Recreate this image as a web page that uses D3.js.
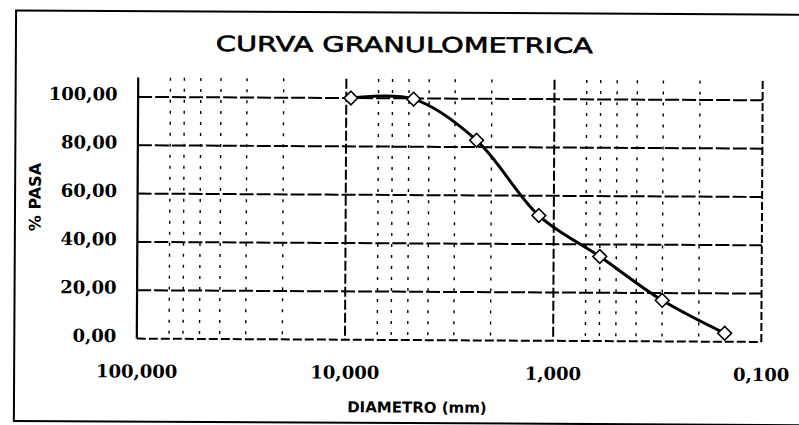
<!DOCTYPE html>
<html>
<head>
<meta charset="utf-8">
<script src="https://cdn.jsdelivr.net/npm/d3@7"></script>
<style>
  html, body { margin: 0; padding: 0; background: #fff; }
  svg { display: block; }
</style>
</head>
<body>
<svg id="chart" width="799" height="425"></svg>
<script>
// ---- data ----
const sieveSizes = [9.5, 4.75, 2.36, 1.18, 0.6, 0.3, 0.15];        // mm
const percentPassing = [100, 99.7, 82.8, 51.8, 35, 17, 3.5];       // % pasa
const yTicks = [0, 20, 40, 60, 80, 100];
const yTickLabels = ["0,00", "20,00", "40,00", "60,00", "80,00", "100,00"];
const xTicks = [100, 10, 1, 0.1];
const xTickLabels = ["100,000", "10,000", "1,000", "0,100"];
const minorMultipliers = [2, 3, 4, 5, 6, 7];
const chartTitle = "CURVA GRANULOMETRICA";
const xTitle = "DIAMETRO (mm)";
const yTitle = "% PASA";

// ---- layout ----
const plot = { left: 137.5, right: 762, top: 79, bottom: 340 };
const svg = d3.select("#chart");
const root = svg.append("g").attr("transform", "rotate(0.31, 400, 212)");

const x = d3.scaleLog().domain([100, 0.1]).range([plot.left, plot.right]);
const y = d3.scaleLinear().domain([0, 108]).range([plot.bottom, plot.top]);

// outer frame
root.append("rect")
  .attr("x", 15).attr("y", 12.5).attr("width", 860).attr("height", 410.5)
  .attr("fill", "none").attr("stroke", "#000").attr("stroke-width", 2);

// title
root.append("text")
  .attr("x", 215).attr("y", 46)
  .attr("dominant-baseline", "middle")
  .attr("textLength", 377).attr("lengthAdjust", "spacingAndGlyphs")
  .style("font-family", "'DejaVu Sans'").style("font-size", "21px")
  .style("font-weight", "normal").style("fill", "#000")
  .style("stroke", "#000").style("stroke-width", 0.6)
  .text(chartTitle);

// minor vertical gridlines
const minorVals = [];
[10, 1, 0.1].forEach(dec => minorMultipliers.forEach(m => minorVals.push(dec * m)));
root.append("g").selectAll("line").data(minorVals).join("line")
  .attr("x1", d => x(d)).attr("x2", d => x(d))
  .attr("y1", plot.top).attr("y2", plot.bottom)
  .attr("stroke", "#000").attr("stroke-width", 1.4)
  .attr("stroke-dasharray", "3,8");

// major vertical gridlines (decades inside)
root.append("g").selectAll("line").data(xTicks.slice(1, -1)).join("line")
  .attr("x1", d => x(d)).attr("x2", d => x(d))
  .attr("y1", plot.top).attr("y2", plot.bottom)
  .attr("stroke", "#000").attr("stroke-width", 2)
  .attr("stroke-dasharray", "10,3");

// horizontal gridlines
root.append("g").selectAll("line").data(yTicks.filter(d => d > 0)).join("line")
  .attr("x1", plot.left).attr("x2", plot.right)
  .attr("y1", d => y(d)).attr("y2", d => y(d))
  .attr("stroke", "#000").attr("stroke-width", 2)
  .attr("stroke-dasharray", "14,3");

// bottom axis line
root.append("line")
  .attr("x1", plot.left).attr("x2", plot.right)
  .attr("y1", y(0)).attr("y2", y(0))
  .attr("stroke", "#000").attr("stroke-width", 2).attr("stroke-dasharray", "9,3");
// left axis
root.append("line")
  .attr("x1", plot.left).attr("x2", plot.left)
  .attr("y1", plot.top).attr("y2", plot.bottom)
  .attr("stroke", "#000").attr("stroke-width", 2.2);
// right border
root.append("line")
  .attr("x1", plot.right).attr("x2", plot.right)
  .attr("y1", plot.top).attr("y2", plot.bottom)
  .attr("stroke", "#000").attr("stroke-width", 2).attr("stroke-dasharray", "8,3");

// y tick labels
root.append("g").selectAll("text").data(yTicks).join("text")
  .attr("x", 117).attr("y", d => y(d) - 1.5)
  .attr("text-anchor", "end").attr("dominant-baseline", "middle")
  .style("font-family", "'DejaVu Serif'").style("font-size", "18px")
  .style("font-weight", "bold").style("fill", "#000")
  .text((d, i) => yTickLabels[i]);

// x tick labels
root.append("g").selectAll("text").data(xTicks).join("text")
  .attr("x", d => x(d)).attr("y", 374)
  .attr("text-anchor", "middle").attr("dominant-baseline", "middle")
  .style("font-family", "'DejaVu Serif'").style("font-size", "18px")
  .style("font-weight", "bold").style("fill", "#000")
  .text((d, i) => xTickLabels[i]);

// axis titles
root.append("text")
  .attr("x", 418).attr("y", 408)
  .attr("text-anchor", "middle").attr("dominant-baseline", "middle")
  .style("font-family", "'DejaVu Sans'").style("font-size", "15px")
  .style("font-weight", "bold").style("fill", "#000")
  .text(xTitle);
root.append("text")
  .attr("transform", "translate(36,199) rotate(-90)")
  .attr("text-anchor", "middle").attr("dominant-baseline", "middle")
  .style("font-family", "'DejaVu Sans'").style("font-size", "16px")
  .style("font-weight", "bold").style("fill", "#000")
  .text(yTitle);

// data curve
const pts = sieveSizes.map((s, i) => ({ s, p: percentPassing[i] }));
const line = d3.line().x(d => x(d.s)).y(d => y(d.p)).curve(d3.curveCatmullRom.alpha(0.5));
root.append("path").datum(pts)
  .attr("d", line).attr("fill", "none")
  .attr("stroke", "#000").attr("stroke-width", 3);

// markers (open diamonds)
const diamond = d3.symbol().type(d3.symbolDiamond2).size(120);
root.append("g").selectAll("path").data(pts).join("path")
  .attr("transform", d => `translate(${x(d.s)},${y(d.p)})`)
  .attr("d", diamond)
  .attr("fill", "#fff").attr("stroke", "#000").attr("stroke-width", 1.6);
</script>
</body>
</html>
